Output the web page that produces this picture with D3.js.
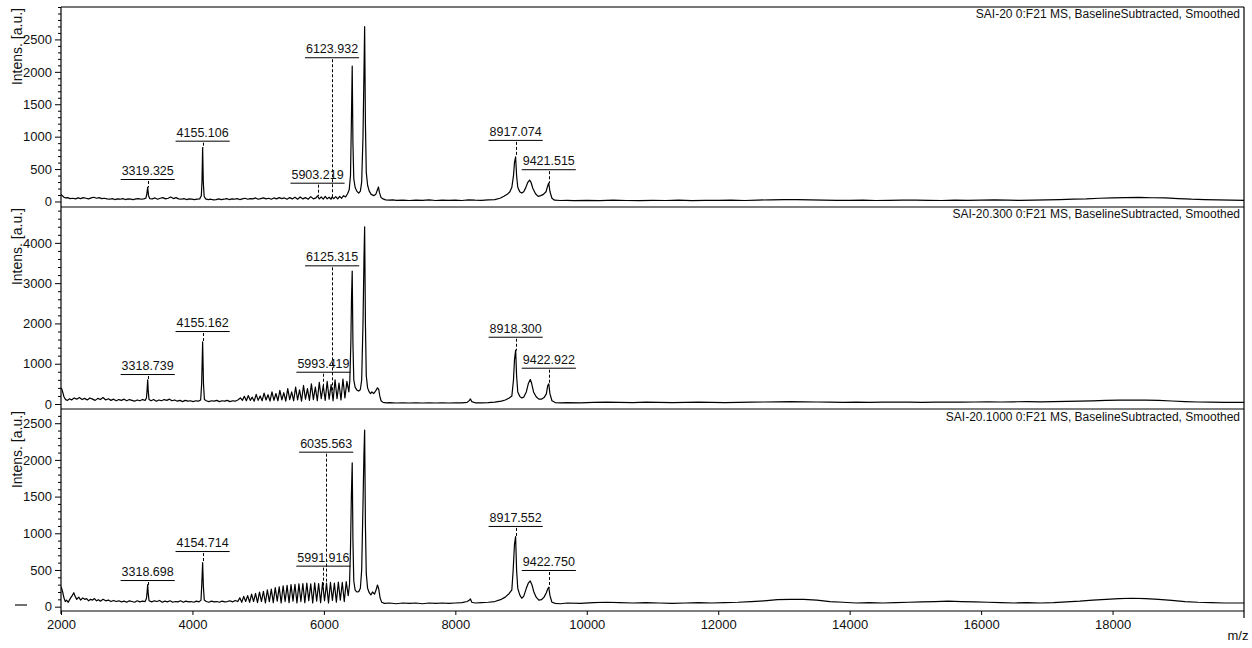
<!DOCTYPE html>
<html><head><meta charset="utf-8">
<script src="https://cdn.jsdelivr.net/npm/d3@7"></script>
<style>
body{margin:0;background:#fff}
svg{display:block;font-family:"Liberation Sans",Arial,sans-serif}
</style>
</head><body>
<svg id="chart" width="1252" height="648"></svg>
<script>
// ---------------- DATA ----------------
const titles = [
  "SAI-20 0:F21 MS, BaselineSubtracted, Smoothed",
  "SAI-20.300 0:F21 MS, BaselineSubtracted, Smoothed",
  "SAI-20.1000 0:F21 MS, BaselineSubtracted, Smoothed"
];
const xTicks = [2000, 4000, 6000, 8000, 10000, 12000, 14000, 16000, 18000];
const xDomain = [2000, 20000];
const yDomains = [[-85, 3000], [-124, 4890], [-59, 2680]];
const yMajorTicks = [[0, 500, 1000, 1500, 2000, 2500], [0, 1000, 2000, 3000, 4000], [0, 500, 1000, 1500, 2000, 2500]];
const yMinorSteps = [100, 200, 100];

// spectrum 1 : SAI-20  [m/z, intensity]
const spec1 = [
[2000,110],[2015,95],[2040,70],[2070,55],[2100,60],[2140,45],[2180,50],[2220,40],[2260,55],[2300,45],[2340,60],[2380,50],[2420,40],[2460,55],[2500,65],[2540,50],[2580,60],[2620,45],[2660,50],[2700,40],[2740,35],[2780,45],[2820,30],[2860,40],[2900,35],[2940,45],[2980,30],[3020,40],[3060,35],[3100,30],[3140,40],[3180,45],[3220,35],[3260,40],[3290,50],[3305,110],[3319,220],[3332,90],[3350,45],[3390,40],[3430,55],[3470,35],[3510,50],[3550,60],[3590,40],[3630,50],[3670,70],[3710,45],[3750,60],[3790,40],[3830,35],[3870,45],[3910,30],[3950,40],[3990,35],[4030,30],[4070,35],[4110,40],[4135,90],[4145,300],[4155,830],[4165,300],[4178,80],[4200,40],[4240,30],[4280,35],[4320,25],[4360,30],[4400,40],[4440,30],[4480,35],[4520,45],[4560,30],[4600,40],[4640,35],[4680,45],[4720,30],[4760,40],[4800,50],[4840,35],[4880,45],[4920,40],[4960,55],[5000,35],[5040,45],[5080,55],[5120,40],[5160,50],[5200,35],[5240,55],[5280,40],[5320,60],[5360,45],[5400,55],[5440,35],[5480,60],[5520,40],[5560,65],[5600,35],[5640,70],[5680,40],[5720,60],[5760,35],[5800,75],[5840,40],[5880,55],[5903,85],[5930,40],[5960,70],[5990,35],[6020,80],[6050,40],[6080,65],[6110,35],[6124,70],[6150,45],[6180,75],[6210,40],[6240,80],[6270,50],[6300,90],[6330,70],[6360,120],[6385,180],[6405,400],[6418,1200],[6431,2090],[6442,900],[6455,350],[6475,220],[6500,160],[6530,130],[6555,160],[6575,300],[6595,1000],[6610,2000],[6620,2697],[6632,1200],[6645,450],[6665,250],[6690,160],[6720,110],[6760,90],[6790,110],[6815,180],[6830,224],[6845,140],[6870,60],[6900,40],[6940,25],[6990,20],[7050,25],[7100,18],[7200,22],[7300,15],[7400,20],[7500,18],[7600,25],[7700,15],[7800,20],[7900,18],[8000,22],[8100,15],[8200,25],[8300,20],[8400,18],[8500,25],[8600,30],[8680,50],[8740,80],[8790,110],[8830,150],[8860,220],[8885,400],[8900,600],[8917,690],[8932,400],[8950,220],[8980,150],[9010,130],[9040,150],[9070,210],[9100,290],[9130,330],[9150,300],[9180,200],[9220,120],[9260,80],[9300,90],[9340,110],[9380,150],[9405,240],[9421,285],[9440,150],[9470,50],[9510,20],[9600,15],[9700,18],
[9800,12],[10000,18],[10200,14],[10400,20],[10600,15],[10800,12],[11000,18],[11200,15],[11400,20],[11600,14],[11800,18],[12000,16],[12200,20],[12400,15],[12600,22],[12800,25],[13000,28],[13200,30],[13400,25],[13600,20],[13800,18],[14000,16],[14200,20],[14400,15],[14600,18],[14800,20],[15000,22],[15200,18],[15400,15],[15600,20],[15800,18],[16000,22],[16200,25],[16400,20],[16600,18],[16800,22],[17000,25],[17200,30],[17400,35],[17600,40],[17800,50],[18000,55],[18200,60],[18400,62],[18600,58],[18800,55],[19000,45],[19200,35],[19400,30],[19600,25],[19800,20],[20000,18]
];

// spectrum 2 : SAI-20.300
const spec2 = [
[2000,400],[2010,380],[2025,300],[2045,180],[2070,110],[2100,90],[2130,130],[2160,100],[2200,150],[2240,120],[2280,160],[2320,110],[2360,140],[2400,100],[2440,150],[2480,120],[2520,90],[2560,140],[2600,110],[2640,160],[2680,100],[2720,130],[2760,90],[2800,120],[2840,80],[2880,110],[2920,90],[2960,120],[3000,80],[3040,110],[3080,90],[3120,70],[3160,100],[3200,80],[3240,110],[3280,90],[3300,150],[3310,350],[3319,600],[3328,300],[3340,110],[3370,80],[3410,110],[3450,70],[3490,100],[3530,80],[3570,110],[3610,90],[3650,120],[3690,80],[3730,100],[3770,70],[3810,90],[3850,60],[3890,90],[3930,70],[3970,80],[4010,60],[4050,80],[4090,70],[4125,100],[4140,500],[4155,1540],[4168,500],[4182,110],[4210,80],[4250,60],[4290,80],[4330,70],[4370,90],[4410,60],[4450,80],[4490,70],[4530,90],[4570,60],[4610,80],[4650,70],[4690,100],
[4700,110],[4730,150],[4760,90],[4790,190],[4820,80],[4850,210],[4880,90],[4910,170],[4940,70],[4970,240],[5000,90],[5030,200],[5060,80],[5090,270],[5120,100],[5150,230],[5180,70],[5210,300],[5240,90],[5270,260],[5300,80],[5330,340],[5360,100],[5390,280],[5420,70],[5450,380],[5480,110],[5510,300],[5540,80],[5570,420],[5600,100],[5630,350],[5660,70],[5690,460],[5720,120],[5750,380],[5780,90],[5810,500],[5840,110],[5870,420],[5900,80],[5930,540],[5960,130],[5990,460],[6020,90],[6050,560],[6080,120],[6110,480],[6140,80],[6170,600],[6200,130],[6230,520],[6260,100],[6290,620],[6320,150],[6350,560],[6380,300],
[6395,600],[6410,1500],[6420,2600],[6431,3300],[6442,1500],[6455,600],[6475,420],[6500,350],[6530,320],[6555,360],[6575,600],[6595,2000],[6610,3600],[6620,4400],[6632,2000],[6645,700],[6665,400],[6690,300],[6710,260],[6730,300],[6760,260],[6790,330],[6815,400],[6835,360],[6850,200],[6870,80],[6900,40],[6950,30],[7000,35],[7100,25],[7200,30],[7300,25],[7400,30],[7500,25],[7600,30],[7700,25],[7800,30],[7900,25],[8000,30],[8100,30],[8180,40],[8215,90],[8230,125],[8250,60],[8300,30],[8400,30],[8500,35],[8600,45],[8700,70],[8760,100],[8820,150],[8860,200],[8885,600],[8900,1100],[8918,1340],[8932,700],[8950,300],[8980,190],[9010,150],[9040,170],[9080,300],[9110,500],[9140,610],[9160,520],[9190,300],[9230,180],[9270,120],[9310,120],[9350,160],[9385,250],[9405,450],[9422,500],[9440,250],[9470,80],[9520,35],[9600,30],
[9700,35],[9900,30],[10100,40],[10300,45],[10500,40],[10700,35],[10900,45],[11100,40],[11300,35],[11500,40],[11700,45],[11900,40],[12100,35],[12300,40],[12500,45],[12700,50],[12900,55],[13100,60],[13300,55],[13500,50],[13700,45],[13900,40],[14100,45],[14300,40],[14500,45],[14700,50],[14900,45],[15100,40],[15300,45],[15500,50],[15700,45],[15900,50],[16100,55],[16300,50],[16500,55],[16700,60],[16900,55],[17100,60],[17300,65],[17500,70],[17700,80],[17900,90],[18100,95],[18300,100],[18500,95],[18700,90],[18900,75],[19100,60],[19300,50],[19500,45],[19700,40],[19900,40],[20000,40]
];

// spectrum 3 : SAI-20.1000
const spec3 = [
[2000,270],[2010,250],[2025,200],[2045,120],[2065,70],[2085,90],[2110,60],[2140,110],[2170,150],[2195,190],[2215,140],[2240,100],[2270,130],[2300,90],[2330,120],[2360,100],[2390,110],[2420,80],[2450,100],[2480,90],[2510,110],[2540,80],[2570,95],[2600,75],[2640,100],[2680,80],[2720,90],[2760,70],[2800,85],[2840,70],[2880,80],[2920,65],[2960,75],[3000,60],[3040,80],[3080,70],[3120,60],[3160,80],[3200,65],[3240,75],[3280,70],[3300,110],[3310,200],[3319,300],[3328,170],[3340,80],[3380,65],[3420,80],[3460,70],[3500,85],[3540,60],[3580,75],[3620,65],[3660,80],[3700,60],[3740,70],[3780,65],[3820,80],[3860,60],[3900,75],[3940,65],[3980,70],[4020,60],[4060,75],[4100,65],[4130,90],[4142,300],[4155,600],[4166,280],[4180,90],[4210,70],[4250,60],[4290,75],[4330,65],[4370,70],[4410,60],[4450,75],[4490,65],[4530,70],[4570,80],[4610,65],[4650,85],[4690,70],
[4720,120],[4750,60],[4780,140],[4810,70],[4840,150],[4870,60],[4900,170],[4930,70],[4960,180],[4990,55],[5020,200],[5050,70],[5080,210],[5110,50],[5140,230],[5170,70],[5200,240],[5230,55],[5260,260],[5290,75],[5320,270],[5350,50],[5380,285],[5410,70],[5440,290],[5470,55],[5500,300],[5530,75],[5560,305],[5590,50],[5620,310],[5650,70],[5680,315],[5710,55],[5740,320],[5770,80],[5800,310],[5830,50],[5860,325],[5890,75],[5920,315],[5950,55],[5980,330],[6010,80],[6040,320],[6070,50],[6100,330],[6130,85],[6160,320],[6190,60],[6220,335],[6250,90],[6280,330],[6310,70],[6340,340],[6370,150],
[6390,300],[6405,800],[6418,1500],[6431,1960],[6442,900],[6455,350],[6475,230],[6500,200],[6530,205],[6555,250],[6575,500],[6595,1400],[6610,2100],[6620,2407],[6632,1100],[6645,450],[6665,250],[6690,190],[6715,160],[6740,200],[6770,170],[6795,230],[6815,295],[6835,240],[6855,120],[6880,60],[6920,45],[7000,50],[7100,40],[7200,50],[7300,45],[7400,50],[7500,40],[7600,50],[7700,45],[7800,50],[7900,45],[8000,50],[8100,55],[8180,70],[8215,90],[8230,105],[8250,60],[8300,50],[8400,55],[8500,60],[8600,70],[8700,100],[8760,130],[8820,180],[8860,230],[8880,500],[8900,850],[8917,955],[8932,500],[8950,250],[8980,160],[9010,115],[9040,140],[9080,250],[9110,320],[9140,350],[9165,300],[9195,200],[9230,130],[9270,90],[9310,95],[9350,130],[9385,190],[9405,240],[9422,265],[9440,150],[9470,60],[9520,45],[9600,40],
[9700,50],[9900,45],[10100,55],[10300,60],[10500,55],[10700,50],[10900,55],[11100,50],[11300,45],[11500,50],[11700,55],[11900,50],[12100,55],[12300,60],[12500,70],[12700,80],[12900,95],[13100,100],[13300,100],[13500,90],[13700,70],[13900,60],[14100,50],[14300,55],[14500,50],[14700,55],[14900,60],[15100,65],[15300,70],[15500,75],[15700,70],[15900,65],[16100,60],[16300,55],[16500,50],[16700,55],[16900,50],[17100,55],[17300,65],[17500,75],[17700,90],[17900,100],[18100,110],[18300,115],[18500,110],[18700,100],[18900,85],[19100,70],[19300,60],[19500,55],[19700,50],[19900,50],[20000,50]
];

// peak annotations: [m/z, label, label level (intensity units)]
const peaks1 = [[3319.325,"3319.325",347],[4155.106,"4155.106",938],[5903.219,"5903.219",290],[6123.932,"6123.932",2225],[8917.074,"8917.074",950],[9421.515,"9421.515",498]];
const peaks2 = [[3318.739,"3318.739",744],[4155.162,"4155.162",1811],[5993.419,"5993.419",801],[6125.315,"6125.315",3442],[8918.300,"8918.300",1670],[9422.922,"9422.922",901]];
const peaks3 = [[3318.698,"3318.698",363],[4154.714,"4154.714",758],[5991.916,"5991.916",559],[6035.563,"6035.563",2112],[8917.552,"8917.552",1100],[9422.750,"9422.750",500]];

const yLabel = "Intens. [a.u.]";
const xLabel = "m/z";

// ---------------- LAYOUT ----------------
const left = 61, right = 1244;
const panelTops = [7, 207, 410];
const panelBottoms = [207, 409, 611];
const spectra = [spec1, spec2, spec3];
const peakSets = [peaks1, peaks2, peaks3];

const svg = d3.select("#chart");
const x = d3.scaleLinear().domain(xDomain).range([left, right]);

const bis = d3.bisector(d => d[0]).left;
function valueAt(spec, mz) {
  const i = bis(spec, mz);
  if (i <= 0) return spec[0][1];
  if (i >= spec.length) return spec[spec.length - 1][1];
  const a = spec[i - 1], b = spec[i];
  const t = (mz - a[0]) / (b[0] - a[0]);
  return a[1] + t * (b[1] - a[1]);
}

spectra.forEach((spec, p) => {
  const top = panelTops[p], bottom = panelBottoms[p];
  const y = d3.scaleLinear().domain(yDomains[p]).range([bottom, top]);
  const g = svg.append("g");

  const clipId = "clip" + p;
  svg.append("clipPath").attr("id", clipId)
    .append("rect").attr("x", left).attr("y", top).attr("width", right - left).attr("height", bottom - top);

  // spectrum
  g.append("path")
    .datum(spec)
    .attr("clip-path", `url(#${clipId})`)
    .attr("fill", "none")
    .attr("stroke", "#000")
    .attr("stroke-width", 1.2)
    .attr("stroke-linejoin", "round")
    .attr("d", d3.line().x(d => x(d[0])).y(d => y(d[1])));

  // minor y ticks
  const [d0, d1] = yDomains[p];
  const step = yMinorSteps[p];
  const minor = d3.range(Math.ceil(d0 / step) * step, d1 + 1, step).filter(v => !yMajorTicks[p].includes(v));
  const minorAxis = g.append("g").attr("transform", `translate(${left},0)`)
    .call(d3.axisLeft(y).tickValues(minor).tickSize(3).tickFormat(""));
  minorAxis.select(".domain").remove();

  const majorAxis = g.append("g").attr("transform", `translate(${left},0)`)
    .call(d3.axisLeft(y).tickValues(yMajorTicks[p]).tickSize(6).tickPadding(3).tickFormat(d3.format("d")));
  majorAxis.select(".domain").remove();
  majorAxis.selectAll("text").attr("font-size", "13px").attr("fill", "#111").attr("font-family", "Liberation Sans, Arial, sans-serif");

  // y label
  g.append("text")
    .attr("transform", `translate(22,${top + 1}) rotate(-90)`)
    .attr("text-anchor", "end")
    .attr("font-size", "14px")
    .attr("fill", "#111")
    .text(yLabel);

  // title
  g.append("text")
    .attr("x", 1240).attr("y", top + 11)
    .attr("text-anchor", "end")
    .attr("font-size", "12px")
    .attr("fill", "#111")
    .text(titles[p]);

  // panel bottom line
  g.append("line").attr("x1", left).attr("x2", right).attr("y1", bottom).attr("y2", bottom)
    .attr("stroke", "#000").attr("stroke-width", 1.2);

  // peak annotations
  peakSets[p].forEach(([mz, lab, lvl]) => {
    const px = x(mz), ly = y(lvl), py = y(valueAt(spec, mz));
    const t = g.append("text")
      .attr("x", px).attr("y", ly - 4)
      .attr("text-anchor", "middle")
      .attr("font-size", "12.5px")
      .attr("fill", "#111")
      .text(lab);
    const w = t.node().getComputedTextLength();
    g.append("line").attr("x1", px - w / 2 - 1).attr("x2", px + w / 2 + 1)
      .attr("y1", ly + 0.5).attr("y2", ly + 0.5)
      .attr("stroke", "#000").attr("stroke-width", 1);
    g.append("line").attr("x1", Math.round(px) + 0.5).attr("x2", Math.round(px) + 0.5)
      .attr("y1", ly + 2).attr("y2", py)
      .attr("stroke", "#000").attr("stroke-width", 1).attr("stroke-dasharray", "3,2");
  });
});

// frame
svg.append("line").attr("x1", left).attr("x2", right).attr("y1", 7).attr("y2", 7)
  .attr("stroke", "#777").attr("stroke-width", 2);
svg.append("line").attr("x1", left).attr("x2", left).attr("y1", 7).attr("y2", 614)
  .attr("stroke", "#000").attr("stroke-width", 1.2);
svg.append("line").attr("x1", right).attr("x2", right).attr("y1", 7).attr("y2", 618)
  .attr("stroke", "#000").attr("stroke-width", 1.2);

// x axis
const xAxis = svg.append("g").attr("transform", `translate(0,611)`)
  .call(d3.axisBottom(x).tickValues(xTicks).tickSize(4).tickPadding(5).tickFormat(d3.format("d")));
xAxis.select(".domain").remove();
xAxis.selectAll("text").attr("font-size", "13px").attr("fill", "#111").attr("font-family", "Liberation Sans, Arial, sans-serif");

svg.append("text").attr("x", 1238).attr("y", 640).attr("text-anchor", "middle")
  .attr("font-size", "13px").attr("fill", "#111").text(xLabel);

// stray mark at lower left (clipped label remnant in original)
svg.append("line").attr("x1", 15).attr("x2", 27).attr("y1", 605).attr("y2", 605)
  .attr("stroke", "#111").attr("stroke-width", 1.2);
</script>
</body></html>
